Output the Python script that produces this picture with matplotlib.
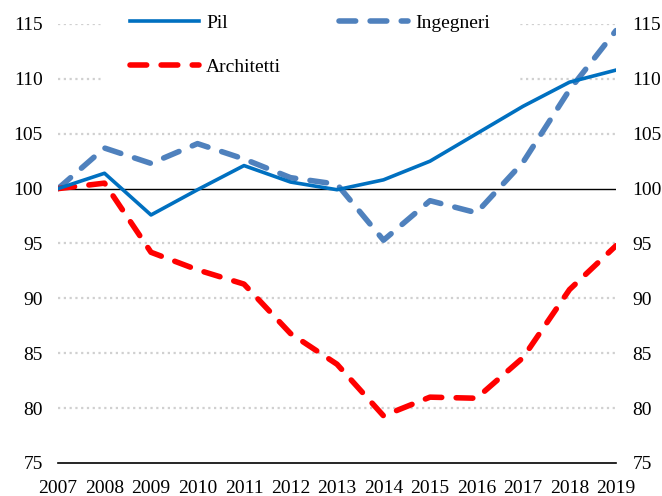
import matplotlib
matplotlib.use("Agg")
import matplotlib.pyplot as plt

plt.rcParams["font.family"] = ["Liberation Serif", "DejaVu Serif"]

anni = list(range(2007, 2020))
pil = [100, 101.4, 97.6, 99.9, 102.1, 100.6, 99.9, 100.8, 102.5, 105.0, 107.5, 109.7, 110.8]
ingegneri = [100, 103.7, 102.3, 104.1, 102.7, 101.0, 100.4, 95.3, 98.9, 97.8, 102.4, 109.0, 114.4]
architetti = [100, 100.5, 94.2, 92.6, 91.3, 86.8, 84.0, 79.3, 81.0, 80.9, 84.6, 90.8, 94.8]
yticks = [75, 80, 85, 90, 95, 100, 105, 110, 115]

fig = plt.figure(figsize=(6.62, 4.96), dpi=100)
ax = fig.add_axes([58 / 662, 33 / 496, 558 / 662, 439 / 496])

for y in yticks:
    if y in (75, 100):
        continue
    ax.axhline(y, color="#d0d0d0", lw=1.6, ls=(0, (1, 1.6)), zorder=0)
ax.axhline(100, color="black", lw=1.0, zorder=1)

l_pil, = ax.plot(anni, pil, color="#0070C0", lw=2.6, label="Pil", zorder=4)
l_ing, = ax.plot(anni, ingegneri, color="#4F81BD", lw=4.0, dashes=(3, 2.6),
                 dash_capstyle="round", label="Ingegneri", zorder=3)
l_arc, = ax.plot(anni, architetti, color="#FF0000", lw=4.0, dashes=(3, 2.6),
                 dash_capstyle="round", label="Architetti", zorder=3)

ax.set_xlim(2007, 2019)
ax.set_ylim(75, 115)
ax.set_xticks(anni)
ax.set_yticks(yticks)
for s in ["top", "right", "left"]:
    ax.spines[s].set_visible(False)
ax.spines["bottom"].set_color("black")
ax.spines["bottom"].set_linewidth(1.2)
ax.tick_params(axis="both", length=0, labelsize=14)
ax.tick_params(axis="x", pad=12)
ax.tick_params(axis="y", pad=11)

ax2 = ax.twinx()
ax2.set_ylim(75, 115)
ax2.set_yticks(yticks)
for s in ["top", "right", "left", "bottom"]:
    ax2.spines[s].set_visible(False)
ax2.tick_params(axis="y", length=0, labelsize=14, pad=12)

leg = ax.legend(handles=[l_pil, l_arc, l_ing], loc="upper left",
                bbox_to_anchor=(0.077, 1.088), ncol=2,
                fontsize=14, handlelength=3.55, columnspacing=3.0,
                labelspacing=1.35, handletextpad=0.35, frameon=True,
                fancybox=False, borderpad=1.5, borderaxespad=0)
leg.get_frame().set_facecolor("white")
leg.get_frame().set_edgecolor("white")
leg.get_frame().set_alpha(1)
leg.set_zorder(2)

fig.savefig("out.png", dpi=100)
